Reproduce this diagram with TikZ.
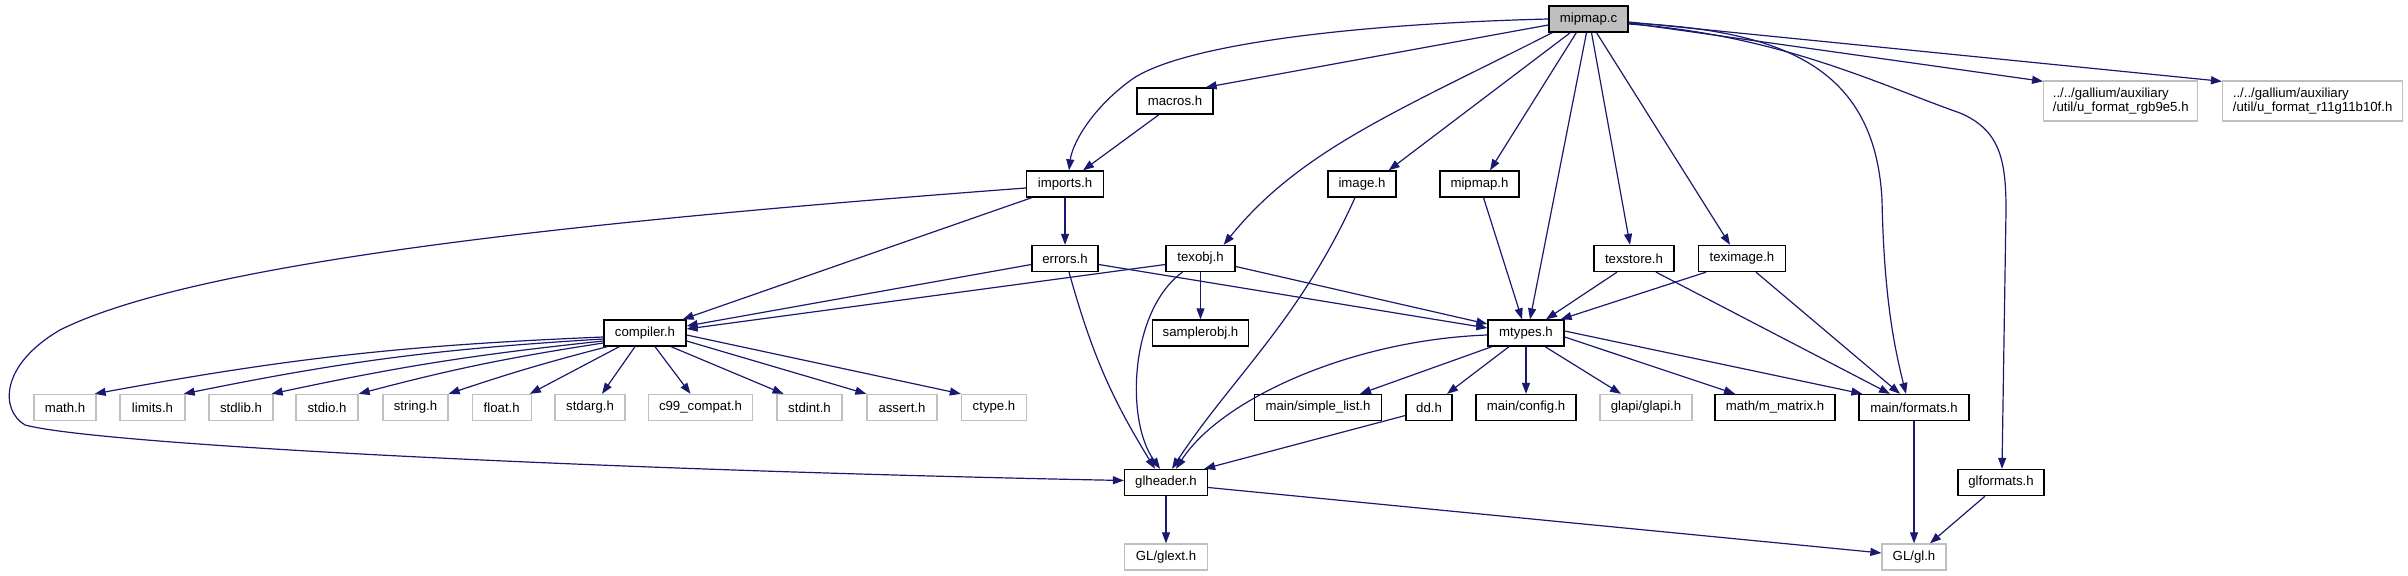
\documentclass[tikz,border=0pt]{standalone}
\usepackage{fontspec}
\setmainfont{Liberation Sans}
\usetikzlibrary{arrows.meta}
\definecolor{edgeblue}{HTML}{191970}
\definecolor{extgray}{HTML}{BFBFBF}
\begin{document}
\begin{tikzpicture}[x=0.5pt,y=-0.5pt,
  box/.style={draw=black,line width=0.65pt,fill=white,inner sep=0pt,minimum height=13pt,
    font=\fontsize{6.6}{7.3}\selectfont,text=black},
  ext/.style={box,draw=extgray},
  root/.style={box,fill=extgray},
  e/.style={draw=edgeblue,line width=0.6pt,-{Triangle[length=5.5pt,width=4pt]}}]
\useasboundingbox (0,0) rectangle (2408,576);

% row 0
\node[root,minimum width=39.5pt] (mipmapc) at (1588.5,19) {mipmap.c};
% row 1
\node[box,minimum width=38pt] (macros) at (1175,101) {macros.h};
\node[ext,minimum width=77pt,minimum height=20pt,align=left] (rgb) at (2120.7,101) {../../gallium/auxiliary\\/util/u\_format\_rgb9e5.h};
\node[ext,minimum width=90pt,minimum height=20pt,align=left] (r11) at (2312.6,101) {../../gallium/auxiliary\\/util/u\_format\_r11g11b10f.h};
% row 2
\node[box,minimum width=38.5pt] (imports) at (1065,184) {imports.h};
\node[box,minimum width=34pt] (image) at (1362,184) {image.h};
\node[box,minimum width=39.5pt] (mipmaph) at (1479.5,184) {mipmap.h};
% row 3
\node[box,minimum width=33pt] (errors) at (1065,258.5) {errors.h};
\node[box,minimum width=34.5pt] (texobj) at (1200.5,258.5) {texobj.h};
\node[box,minimum width=40pt] (texstore) at (1634,258.5) {texstore.h};
\node[box,minimum width=43.5pt] (teximage) at (1742,258.5) {teximage.h};
% row 4
\node[box,minimum width=41pt] (compiler) at (645,333) {compiler.h};
\node[box,minimum width=48pt] (samplerobj) at (1200.5,333) {samplerobj.h};
\node[box,minimum width=38pt] (mtypes) at (1526,333) {mtypes.h};
% row 5
\node[ext,minimum width=31pt] (math) at (65,407.5) {math.h};
\node[ext,minimum width=32.5pt] (limits) at (152.5,407.5) {limits.h};
\node[ext,minimum width=32pt] (stdlib) at (241,407.5) {stdlib.h};
\node[ext,minimum width=31pt] (stdio) at (327,407.5) {stdio.h};
\node[ext,minimum width=32.5pt] (string) at (415.5,407.5) {string.h};
\node[ext,minimum width=29.5pt] (float) at (501.7,407.5) {float.h};
\node[ext,minimum width=35pt] (stdarg) at (590,407.5) {stdarg.h};
\node[ext,minimum width=52pt] (c99) at (700.5,407.5) {c99\_compat.h};
\node[ext,minimum width=32.5pt] (stdint) at (809.5,407.5) {stdint.h};
\node[ext,minimum width=35pt] (assert) at (902,407.5) {assert.h};
\node[ext,minimum width=32.5pt] (ctype) at (994,407.5) {ctype.h};
\node[box,minimum width=63.5pt] (simplelist) at (1318,407.5) {main/simple\_list.h};
\node[box,minimum width=23pt] (dd) at (1429,407.5) {dd.h};
\node[box,minimum width=50pt] (config) at (1526,407.5) {main/config.h};
\node[ext,minimum width=46pt] (glapi) at (1646,407.5) {glapi/glapi.h};
\node[box,minimum width=60pt] (mmatrix) at (1775,407.5) {math/m\_matrix.h};
\node[box,minimum width=55pt] (formats) at (1914,407.5) {main/formats.h};
% row 6
\node[box,minimum width=41.5pt] (glheader) at (1166,482.5) {glheader.h};
\node[box,minimum width=43pt] (glformats) at (2001,482.5) {glformats.h};
% row 7
\node[ext,minimum width=41.5pt] (glext) at (1166,557) {GL/glext.h};
\node[ext,minimum width=32pt] (gl) at (1914,557) {GL/gl.h};

% edges from mipmap.c
\draw[e] (mipmapc.west) .. controls (1350,24) and (1180,45) .. (1131,80)
   .. controls (1090,110) and (1072,145) .. ([xshift=2pt]imports.north);
\draw[e] ([yshift=-3pt]mipmapc.west) -- ([xshift=-4pt]macros.north east);
\draw[e] ([xshift=2pt]mipmapc.south west) .. controls (1400,110) and (1300,150) .. ([xshift=-6pt]texobj.north east);
\draw[e] ([xshift=11pt]mipmapc.south west) -- ([xshift=-4pt]image.north east);
\draw[e] ([xshift=14pt]mipmapc.south west) -- ([xshift=5.25pt]mipmaph.north);
\draw[e] ([xshift=-1pt]mipmapc.south) -- ([xshift=2pt]mtypes.north);
\draw[e] ([xshift=1.5pt]mipmapc.south) -- ([xshift=-2pt]texstore.north);
\draw[e] ([xshift=4pt]mipmapc.south) -- ([xshift=-6pt]teximage.north);
\draw[e] ([yshift=-2pt]mipmapc.east) .. controls (1780,30) and (1875,65) .. (1882,200)
   .. controls (1884,300) and (1895,350) .. ([xshift=-4pt]formats.north);
\draw[e] ([yshift=-2.5pt]mipmapc.east) .. controls (1780,35) and (1880,85) .. (1960,113)
   .. controls (2000,130) and (2006,160) .. (2006,210) -- ([xshift=0.5pt]glformats.north);
\draw[e] ([yshift=-2pt]mipmapc.east) -- ([yshift=-0.5pt]rgb.north west);
\draw[e] ([yshift=-1.5pt]mipmapc.east) -- ([yshift=-0.5pt]r11.north west);

% macros, imports
\draw[e] ([xshift=-8pt]macros.south) -- ([xshift=9pt]imports.north);
\draw[e] (imports.south) -- (errors.north);
\draw[e] ([xshift=3pt]imports.south west) -- ([xshift=-2pt]compiler.north east);
\draw[e] ([yshift=-2pt]imports.west) .. controls (600,220) and (200,260) .. (60,330)
   .. controls (0,365) and (0,410) .. (25,425)
   .. controls (100,445) and (600,470) .. ([yshift=1pt]glheader.west);

% errors, texobj
\draw[e] ([yshift=-3pt]errors.west) -- ([yshift=3.5pt]compiler.east);
\draw[e] ([xshift=2pt]errors.south) to[bend right=8] ([xshift=-5.5pt]glheader.north);
\draw[e] ([yshift=-3pt]errors.east) -- ([yshift=2.5pt]mtypes.west);
\draw[e] ([yshift=-3pt]texobj.west) -- ([yshift=2pt]compiler.east);
\draw[e] ([xshift=-9pt]texobj.south) .. controls (1130,310) and (1125,420) .. ([xshift=-3pt]glheader.north);
\draw[e] (texobj.south) -- (samplerobj.north);
\draw[e] ([yshift=-4pt]texobj.east) -- ([yshift=4.5pt]mtypes.west);

% image, mipmap.h, texstore, teximage
\draw[e] ([xshift=-3.5pt]image.south) .. controls (1300,320) and (1230,380) .. ([xshift=3pt]glheader.north);
\draw[e] ([xshift=2pt]mipmaph.south) -- ([xshift=-2pt]mtypes.north);
\draw[e] ([xshift=-8.5pt]texstore.south) -- ([xshift=10pt]mtypes.north);
\draw[e] ([xshift=11pt]texstore.south) -- ([xshift=-12pt]formats.north);
\draw[e] ([xshift=-18pt]teximage.south) -- ([xshift=-2pt]mtypes.north east);
\draw[e] ([xshift=7pt]teximage.south) -- ([xshift=-7pt]formats.north);

% compiler.h
\draw[e] ([yshift=-2pt]compiler.west) to[bend right=4] ([xshift=-1pt]math.north east);
\draw[e] ([yshift=-3pt]compiler.west) to[bend right=4] ([xshift=-1pt]limits.north east);
\draw[e] ([yshift=-4pt]compiler.west) to[bend right=3] ([xshift=-1pt]stdlib.north east);
\draw[e] ([yshift=-5pt]compiler.west) to[bend right=3] (stdio.north east);
\draw[e] ([xshift=2pt]compiler.south west) to[bend right=2] (string.north east);
\draw[e] ([xshift=8pt]compiler.south west) -- ([xshift=-1pt]float.north east);
\draw[e] ([xshift=-5pt]compiler.south) -- ([xshift=6pt]stdarg.north);
\draw[e] ([xshift=5pt]compiler.south) -- ([xshift=-5pt]c99.north);
\draw[e] ([xshift=13pt]compiler.south) -- ([xshift=-13pt]stdint.north);
\draw[e] ([yshift=-4pt]compiler.east) -- (assert.north west);
\draw[e] ([yshift=-1pt]compiler.east) -- (ctype.north west);

% mtypes.h
\draw[e] ([yshift=-1pt]mtypes.west) .. controls (1350,340) and (1220,400) .. ([xshift=5pt]glheader.north);
\draw[e] ([xshift=-17pt]mtypes.south) -- ([xshift=21pt]simplelist.north);
\draw[e] ([xshift=-8.5pt]mtypes.south) -- ([xshift=9pt]dd.north);
\draw[e] (mtypes.south) -- (config.north);
\draw[e] ([xshift=9.5pt]mtypes.south) -- ([xshift=-12.5pt]glapi.north);
\draw[e] ([yshift=-2pt]mtypes.east) -- ([xshift=-20pt]mmatrix.north);
\draw[e] ([yshift=1pt]mtypes.east) -- ([xshift=2pt]formats.north west);

% lower
\draw[e] ([yshift=-4pt]dd.west) -- ([xshift=-2pt]glheader.north east);
\draw[e] (glheader.south) -- (glext.north);
\draw[e] ([yshift=-2.5pt]glheader.east) -- ([yshift=2pt]gl.west);
\draw[e] (formats.south) -- (gl.north);
\draw[e] ([xshift=-8pt]glformats.south) -- ([xshift=8pt]gl.north);
\end{tikzpicture}
\end{document}
